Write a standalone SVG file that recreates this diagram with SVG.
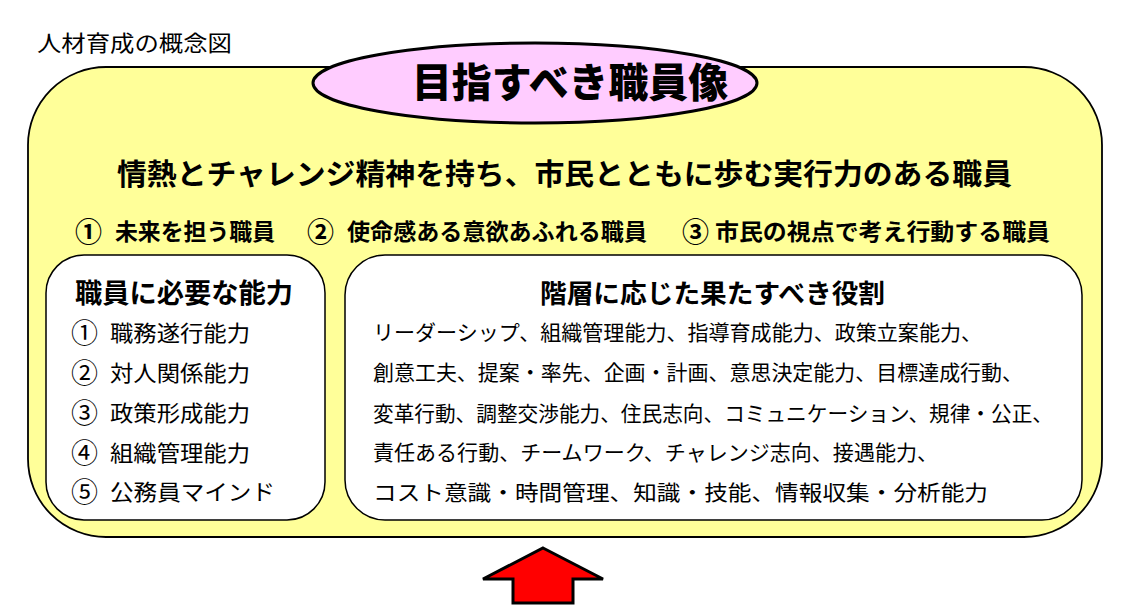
<svg xmlns="http://www.w3.org/2000/svg" width="1132" height="610" viewBox="0 0 1132 610">
<style>
text{font-family:"Noto Sans CJK JP","Noto Sans CJK SC",sans-serif;fill:#000}
.b{font-weight:700}
.box{fill:#fff;stroke:#000;stroke-width:1.5}
.item{font-size:22px}
.num{font-size:27px}
.role{font-size:21px}
</style>
<rect width="1132" height="610" fill="#fff"/>
<text x="37" y="51" font-size="22" textLength="195" lengthAdjust="spacingAndGlyphs">人材育成の概念図</text>
<g id="outer">
<rect x="28" y="67" width="1074" height="470" rx="78" ry="78" fill="#FFFF99" stroke="#000" stroke-width="1.8"/>
<text class="b" x="117" y="185" font-size="29" textLength="895" lengthAdjust="spacingAndGlyphs">情熱とチャレンジ精神を持ち、市民とともに歩む実行力のある職員</text>
<g class="b" font-size="23">
<text class="num" x="75" y="242">①</text>
<text x="115" y="240" textLength="160" lengthAdjust="spacingAndGlyphs">未来を担う職員</text>
<text class="num" x="307" y="242">②</text>
<text x="347" y="240" textLength="300" lengthAdjust="spacingAndGlyphs">使命感ある意欲あふれる職員</text>
<text class="num" x="682" y="242">③</text>
<text x="715" y="240" textLength="335" lengthAdjust="spacingAndGlyphs">市民の視点で考え行動する職員</text>
</g>
</g>
<g id="goal">
<ellipse cx="535" cy="83" rx="222" ry="40" fill="#FFCCFF" stroke="#000" stroke-width="3"/>
<text x="412" y="97" font-size="40" font-weight="900" textLength="316" lengthAdjust="spacingAndGlyphs">目指すべき職員像</text>
</g>
<g id="abilities">
<rect class="box" x="46" y="255" width="279" height="265" rx="38" ry="38"/>
<text class="b" x="75" y="303" font-size="27" textLength="218" lengthAdjust="spacingAndGlyphs">職員に必要な能力</text>
<g class="item">
<text class="num" x="71" y="343">①</text><text x="110" y="341" textLength="140" lengthAdjust="spacingAndGlyphs">職務遂行能力</text>
<text class="num" x="71" y="383">②</text><text x="110" y="381" textLength="140" lengthAdjust="spacingAndGlyphs">対人関係能力</text>
<text class="num" x="71" y="423">③</text><text x="110" y="421" textLength="140" lengthAdjust="spacingAndGlyphs">政策形成能力</text>
<text class="num" x="71" y="463">④</text><text x="110" y="461" textLength="140" lengthAdjust="spacingAndGlyphs">組織管理能力</text>
<text class="num" x="71" y="502">⑤</text><text x="110" y="500" textLength="165" lengthAdjust="spacingAndGlyphs">公務員マインド</text>
</g>
</g>
<g id="roles">
<rect class="box" x="345" y="255" width="737" height="265" rx="40" ry="40"/>
<text class="b" x="540" y="303" font-size="26" textLength="345" lengthAdjust="spacingAndGlyphs">階層に応じた果たすべき役割</text>
<g class="role">
<text x="373" y="340" textLength="609" lengthAdjust="spacingAndGlyphs">リーダーシップ、組織管理能力、指導育成能力、政策立案能力、</text>
<text x="373" y="380" textLength="650" lengthAdjust="spacingAndGlyphs">創意工夫、提案・率先、企画・計画、意思決定能力、目標達成行動、</text>
<text x="373" y="421" textLength="680" lengthAdjust="spacingAndGlyphs">変革行動、調整交渉能力、住民志向、コミュニケーション、規律・公正、</text>
<text x="373" y="460" textLength="565" lengthAdjust="spacingAndGlyphs">責任ある行動、チームワーク、チャレンジ志向、接遇能力、</text>
<text x="373" y="500" textLength="615" lengthAdjust="spacingAndGlyphs">コスト意識・時間管理、知識・技能、情報収集・分析能力</text>
</g>
</g>
<g id="connectors">
<polygon points="543,548 603,579 573,579 573,603 513,603 513,579 483,579" fill="#FF0000" stroke="#000" stroke-width="3" stroke-linejoin="miter"/>
</g>
</svg>
